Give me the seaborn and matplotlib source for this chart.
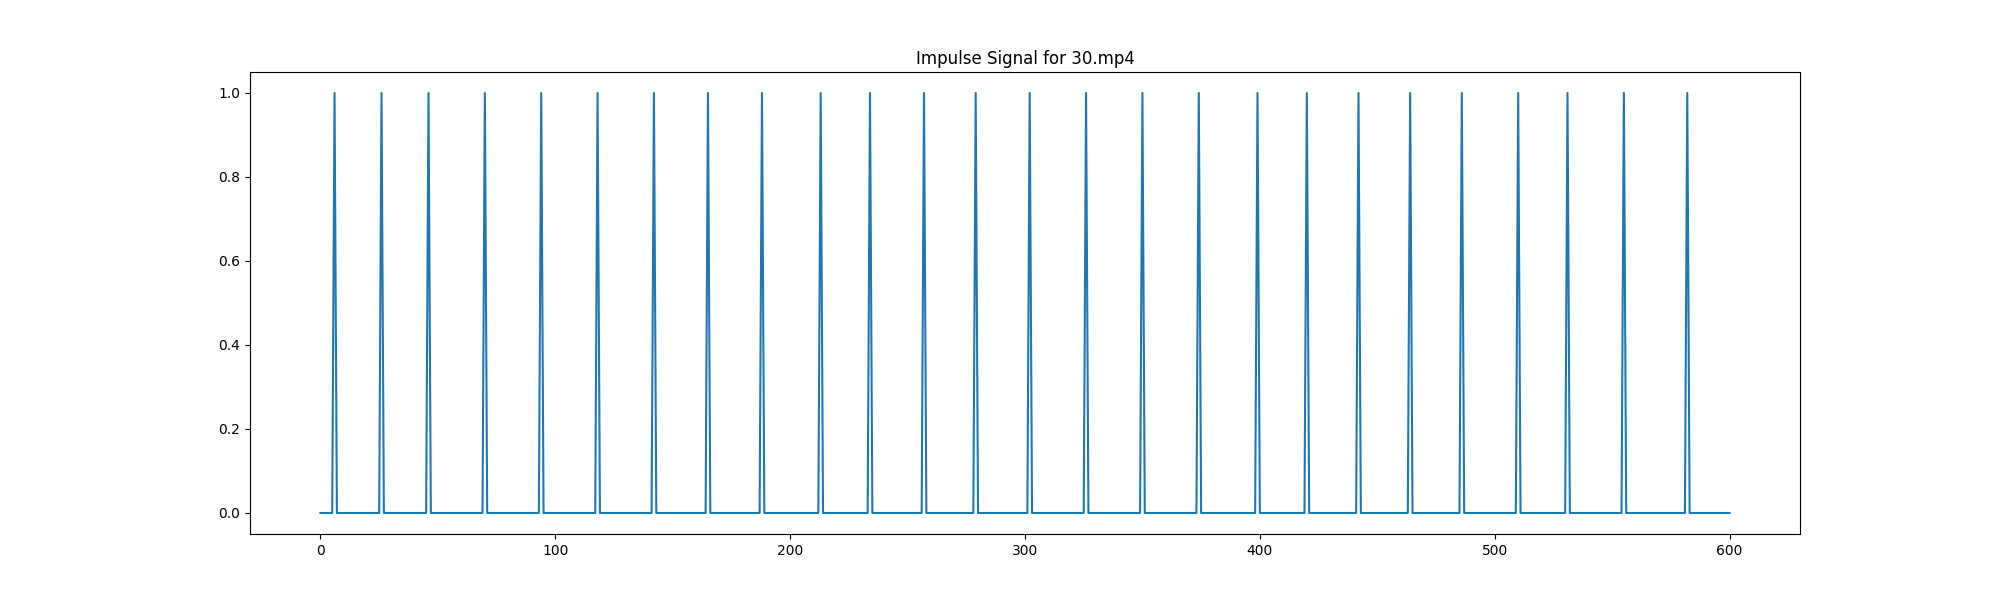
import numpy as np
import pandas as pd
import matplotlib
matplotlib.use("Agg")
import matplotlib.pyplot as plt
import seaborn as sns

# Frames where an impulse occurs
impulse_frames = [6, 26, 46, 70, 94, 118, 142, 165, 188, 213, 234, 257, 279,
                  302, 326, 350, 374, 399, 420, 442, 464, 486, 510, 531, 555, 582]
n_frames = 601
titulo = "Impulse Signal for 30.mp4"

frames = np.arange(n_frames)
signal = np.zeros(n_frames)
signal[impulse_frames] = 1.0
df = pd.DataFrame({"frame": frames, "impulse": signal})

fig, ax = plt.subplots(figsize=(20, 6), dpi=100)
sns.lineplot(x="frame", y="impulse", data=df, ax=ax, color="#1f77b4",
             linewidth=1.5, estimator=None)

ax.set_title(titulo)
ax.set_xlabel("")
ax.set_ylabel("")

fig.savefig("out.png", dpi=100)
